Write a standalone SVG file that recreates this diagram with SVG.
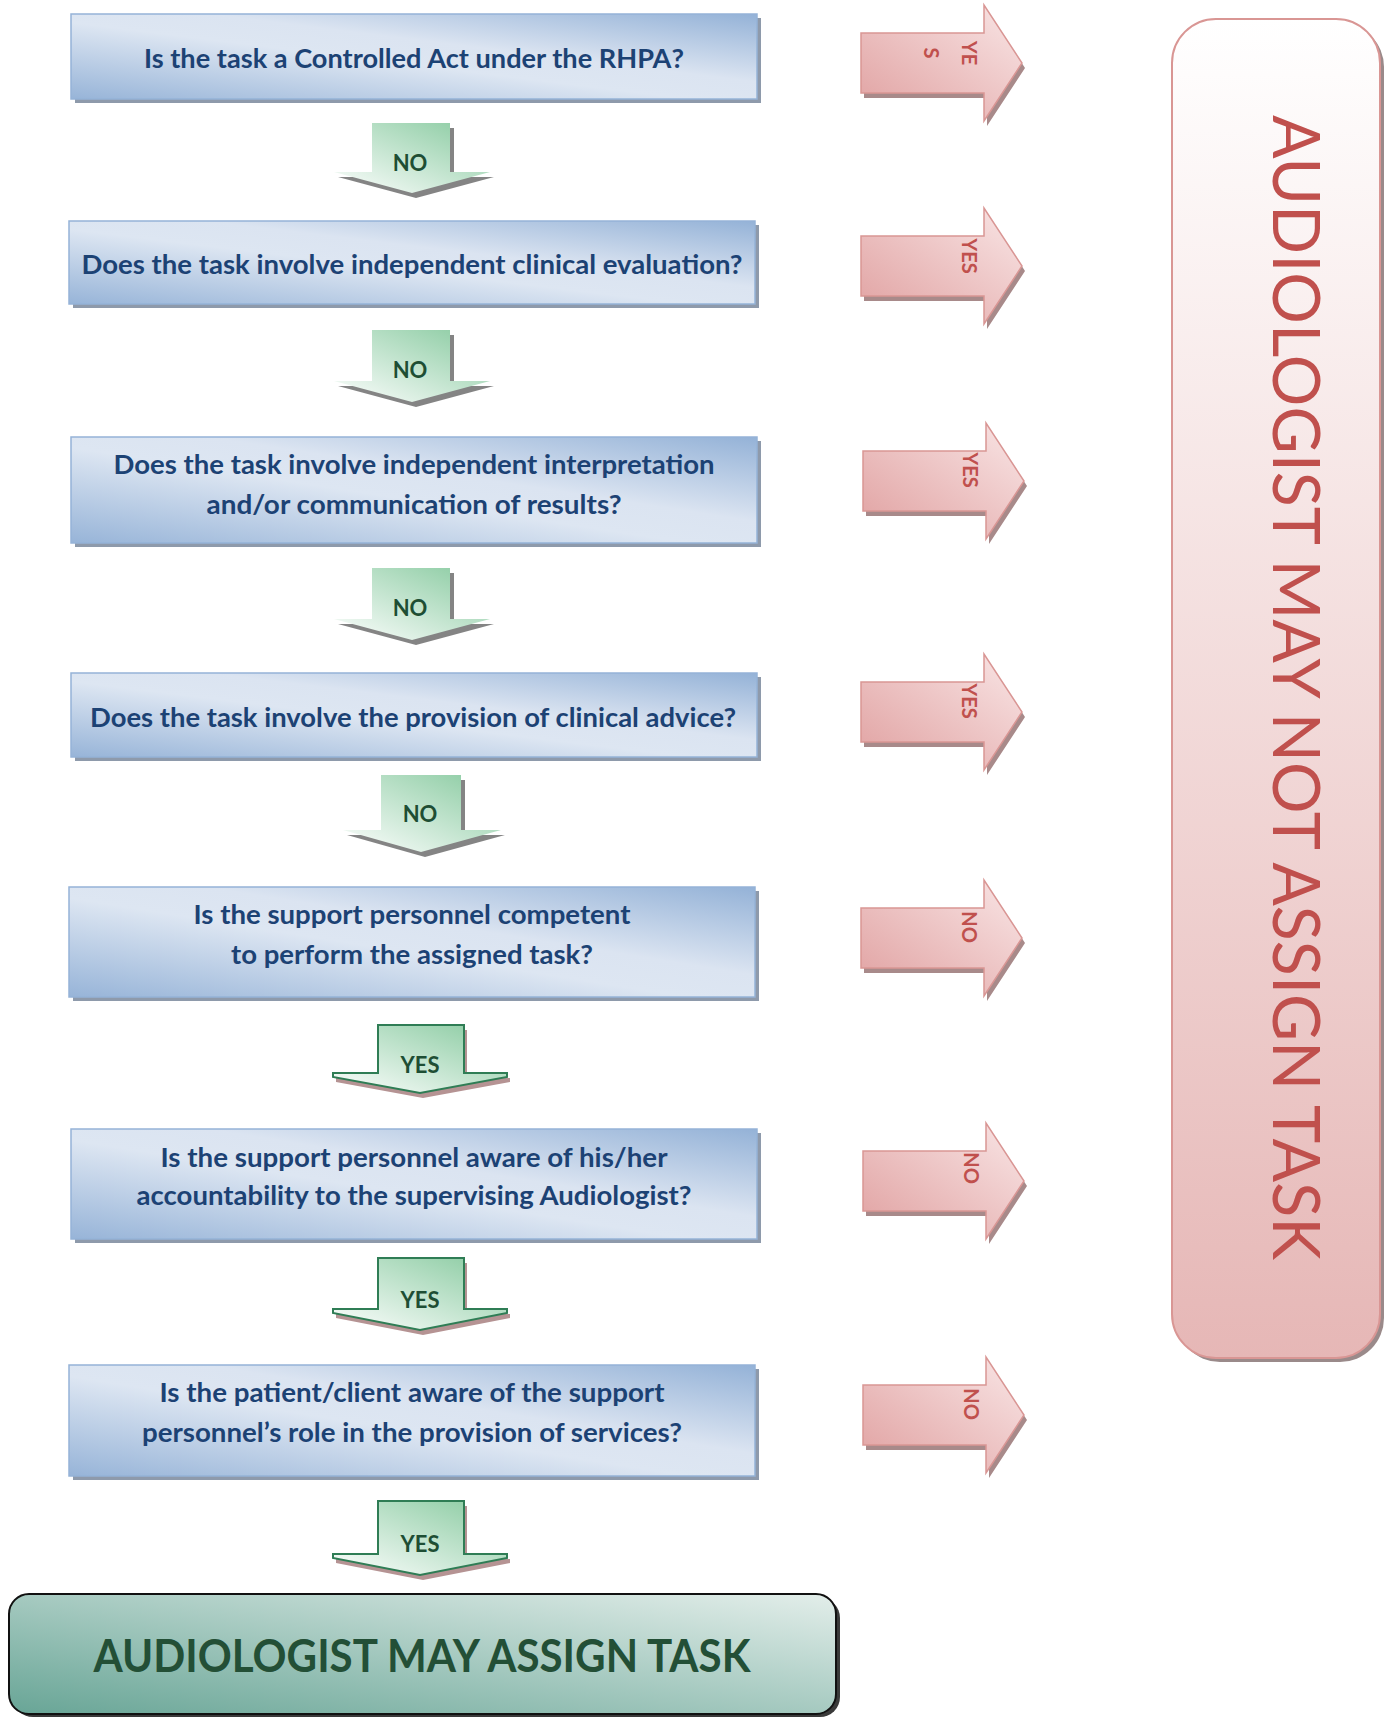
<svg xmlns="http://www.w3.org/2000/svg" width="1389" height="1720" viewBox="0 0 1389 1720">
<style>
.q{font-family:Lato,"Open Sans","Liberation Sans",sans-serif;font-weight:bold;font-size:26px;fill:#1c4274;text-anchor:middle}
.box{fill:url(#gBlue);stroke:#95b3d7;stroke-width:1.5}
.boxsh{fill:#8e9aab}
.gno{fill:url(#gGreen)}
.gyes{fill:url(#gGreen);stroke:#2f7d55;stroke-width:2}
.gsh{fill:#6f6f6f;opacity:.85}
.gsh2{fill:#b59393}
.gl{font-family:Lato,"Open Sans","Liberation Sans",sans-serif;font-weight:bold;font-size:22px;fill:#1e4e34;text-anchor:middle}
.red{fill:url(#gRed);stroke:#d99694;stroke-width:1.5}
.rsh{fill:#a88a8a}
.rl{font-family:Lato,"Open Sans","Liberation Sans",sans-serif;font-weight:bold;font-size:20px;fill:#c0504d;text-anchor:middle}
</style>
<defs>
<linearGradient id="gBlue" x1="0" y1="1" x2="1" y2="0">
<stop offset="0" stop-color="#97b4d8"/>
<stop offset="0.45" stop-color="#dde6f2"/>
<stop offset="0.6" stop-color="#dbe4f1"/>
<stop offset="1" stop-color="#94b2d7"/>
</linearGradient>
<linearGradient id="gGreen" x1="1" y1="0" x2="0" y2="1">
<stop offset="0" stop-color="#86c99e"/>
<stop offset="1" stop-color="#ffffff"/>
</linearGradient>
<linearGradient id="gRed" x1="0" y1="1" x2="1" y2="0">
<stop offset="0" stop-color="#e0a0a0"/>
<stop offset="1" stop-color="#f9e6e6"/>
</linearGradient>
<linearGradient id="gPink" x1="0" y1="0" x2="0" y2="1">
<stop offset="0" stop-color="#ffffff"/>
<stop offset="1" stop-color="#e6b7b6"/>
</linearGradient>
<linearGradient id="gTeal" x1="0" y1="1" x2="1" y2="0">
<stop offset="0" stop-color="#68a596"/>
<stop offset="1" stop-color="#e3eeea"/>
</linearGradient>
<path id="redArrow" d="M0,-30 H123 V-58 L161,0 L123,58 V30 H0 Z"/>
</defs>

<!-- connectors -->
<g id="connectors">
<g id="no1">
<path class="gsh" d="M376,128 H454 V177 H494 L416,198 L338,177 H376 Z"/>
<path class="gno" d="M372,123 H450 V172 H490 L412,193 L334,172 H372 Z"/>
<text class="gl" x="410" y="171">NO</text>
</g>
<g id="no2">
<path class="gsh" d="M376,335 H454 V386 H494 L416,407 L338,386 H376 Z"/>
<path class="gno" d="M372,330 H450 V381 H490 L412,402 L334,381 H372 Z"/>
<text class="gl" x="410" y="378">NO</text>
</g>
<g id="no3">
<path class="gsh" d="M376,573 H454 V624 H494 L416,645 L338,624 H376 Z"/>
<path class="gno" d="M372,568 H450 V619 H490 L412,640 L334,619 H372 Z"/>
<text class="gl" x="410" y="616">NO</text>
</g>
<g id="no4">
<path class="gsh" d="M385,780 H465 V835 H505 L425,857 L347,835 H385 Z"/>
<path class="gno" d="M381,775 H461 V830 H501 L421,852 L343,830 H381 Z"/>
<text class="gl" x="420" y="822">NO</text>
</g>
<g id="yes5">
<path class="gsh2" d="M381,1030 H467 V1078 H510 V1082 L423,1098 L336,1082 V1078 H381 Z"/>
<path class="gyes" d="M378,1025 H464 V1073 H507 V1077 L420,1093 L333,1077 V1073 H378 Z"/>
<text class="gl" x="420" y="1073" font-size="20">YES</text>
</g>
<g id="yes6">
<path class="gsh2" d="M381,1263 H467 V1314 H510 V1318 L423,1335 L336,1318 V1314 H381 Z"/>
<path class="gyes" d="M378,1258 H464 V1309 H507 V1313 L420,1330 L333,1313 V1309 H378 Z"/>
<text class="gl" x="420" y="1308" font-size="20">YES</text>
</g>
<g id="yes7">
<path class="gsh2" d="M381,1506 H467 V1559 H510 V1563 L423,1580 L336,1563 V1559 H381 Z"/>
<path class="gyes" d="M378,1501 H464 V1554 H507 V1558 L420,1575 L333,1558 V1554 H378 Z"/>
<text class="gl" x="420" y="1552" font-size="20">YES</text>
</g>

<g id="yesR1">
<use href="#redArrow" class="rsh" x="864" y="68"/>
<use href="#redArrow" class="red" x="861" y="63"/>
<text class="rl" transform="translate(962,53) rotate(90)">YE<tspan x="0" dy="38">S</tspan></text>
</g>
<g id="yesR2">
<use href="#redArrow" class="rsh" x="864" y="271"/>
<use href="#redArrow" class="red" x="861" y="266"/>
<text class="rl" transform="translate(962,256) rotate(90)">YES</text>
</g>
<g id="yesR3">
<use href="#redArrow" class="rsh" x="866" y="486"/>
<use href="#redArrow" class="red" x="863" y="481"/>
<text class="rl" transform="translate(963,470) rotate(90)">YES</text>
</g>
<g id="yesR4">
<use href="#redArrow" class="rsh" x="864" y="717"/>
<use href="#redArrow" class="red" x="861" y="712"/>
<text class="rl" transform="translate(962,701) rotate(90)">YES</text>
</g>
<g id="noR5">
<use href="#redArrow" class="rsh" x="864" y="943"/>
<use href="#redArrow" class="red" x="861" y="938"/>
<text class="rl" transform="translate(962,927) rotate(90)">NO</text>
</g>
<g id="noR6">
<use href="#redArrow" class="rsh" x="866" y="1186"/>
<use href="#redArrow" class="red" x="863" y="1181"/>
<text class="rl" transform="translate(964,1168) rotate(90)">NO</text>
</g>
<g id="noR7">
<use href="#redArrow" class="rsh" x="866" y="1420"/>
<use href="#redArrow" class="red" x="863" y="1415"/>
<text class="rl" transform="translate(964,1404) rotate(90)">NO</text>
</g>
</g>

<!-- question nodes -->
<g id="q1">
<rect class="boxsh" x="75" y="18" width="686" height="85"/>
<rect class="box" x="71" y="14" width="686" height="85"/>
<text class="q" x="414" y="68" textLength="540" lengthAdjust="spacingAndGlyphs">Is the task a Controlled Act under the RHPA?</text>
</g>
<g id="q2">
<rect class="boxsh" x="73" y="225" width="686" height="83"/>
<rect class="box" x="69" y="221" width="686" height="83"/>
<text class="q" x="412" y="274" textLength="661" lengthAdjust="spacingAndGlyphs">Does the task involve independent clinical evaluation?</text>
</g>
<g id="q3">
<rect class="boxsh" x="75" y="441" width="686" height="106"/>
<rect class="box" x="71" y="437" width="686" height="106"/>
<text class="q" x="414" y="474" textLength="601" lengthAdjust="spacingAndGlyphs">Does the task involve independent interpretation</text>
<text class="q" x="414" y="514" textLength="415" lengthAdjust="spacingAndGlyphs">and/or communication of results?</text>
</g>
<g id="q4">
<rect class="boxsh" x="75" y="677" width="686" height="84"/>
<rect class="box" x="71" y="673" width="686" height="84"/>
<text class="q" x="413" y="727" textLength="646" lengthAdjust="spacingAndGlyphs">Does the task involve the provision of clinical advice?</text>
</g>
<g id="q5">
<rect class="boxsh" x="73" y="891" width="686" height="110"/>
<rect class="box" x="69" y="887" width="686" height="110"/>
<text class="q" x="412" y="924" textLength="437" lengthAdjust="spacingAndGlyphs">Is the support personnel competent</text>
<text class="q" x="412" y="964" textLength="362" lengthAdjust="spacingAndGlyphs">to perform the assigned task?</text>
</g>
<g id="q6">
<rect class="boxsh" x="75" y="1133" width="686" height="110"/>
<rect class="box" x="71" y="1129" width="686" height="110"/>
<text class="q" x="414" y="1167" textLength="507" lengthAdjust="spacingAndGlyphs">Is the support personnel aware of his/her</text>
<text class="q" x="414" y="1205" textLength="555" lengthAdjust="spacingAndGlyphs">accountability to the supervising Audiologist?</text>
</g>
<g id="q7">
<rect class="boxsh" x="73" y="1369" width="686" height="111"/>
<rect class="box" x="69" y="1365" width="686" height="111"/>
<text class="q" x="412" y="1402" textLength="505" lengthAdjust="spacingAndGlyphs">Is the patient/client aware of the support</text>
<text class="q" x="412" y="1442" textLength="540" lengthAdjust="spacingAndGlyphs">personnel’s role in the provision of services?</text>
</g>

<!-- outcome nodes -->
<g id="mayNot">
<rect x="1176" y="23" width="208" height="1339" rx="44" fill="#9a8a8a"/>
<rect x="1172" y="19" width="208" height="1339" rx="44" fill="url(#gPink)" stroke="#d99694" stroke-width="2"/>
<text transform="translate(1273,115) rotate(90)" x="0" y="0" font-family="Lato,'Open Sans','Liberation Sans',sans-serif" font-size="66" fill="#c0504d" textLength="1145" lengthAdjust="spacingAndGlyphs">AUDIOLOGIST MAY NOT ASSIGN TASK</text>
</g>
<g id="may">
<rect x="13" y="1598" width="827" height="119" rx="20" fill="#3a3a3a"/>
<rect x="9" y="1594" width="827" height="120" rx="20" fill="url(#gTeal)" stroke="#111" stroke-width="2"/>
<text x="422" y="1672" font-family="Lato,'Open Sans','Liberation Sans',sans-serif" font-weight="bold" font-size="46" fill="#234f36" text-anchor="middle" textLength="657" lengthAdjust="spacingAndGlyphs">AUDIOLOGIST MAY ASSIGN TASK</text>
</g>
</svg>
